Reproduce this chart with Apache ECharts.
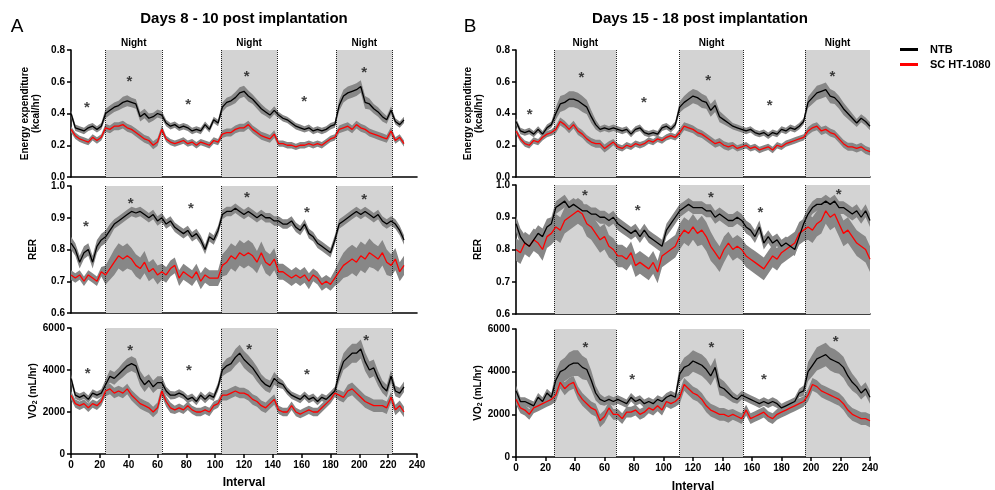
<!DOCTYPE html>
<html><head><meta charset="utf-8">
<script src="https://cdn.jsdelivr.net/npm/echarts/dist/echarts.min.js"></script>
<style>html,body{margin:0;padding:0;background:#fff}#c{width:995px;height:490px}</style>
</head><body><div id="c"></div>
<script>
// ---------- DATA ----------
const xLeft = [0,3,6,9,12,15,18,21,24,27,30,33,36,39,42,45,48,51,54,57,60,63,66,69,72,75,78,81,84,87,90,93,96,99,102,105,108,111,114,117,120,123,126,129,132,135,138,141,144,147,150,153,156,159,162,165,168,171,174,177,180,183,186,189,192,195,198,201,204,207,210,213,216,219,222,225,228,231];
const xRight = [0,3,6,9,12,15,18,21,24,27,30,33,36,39,42,45,48,51,54,57,60,63,66,69,72,75,78,81,84,87,90,93,96,99,102,105,108,111,114,117,120,123,126,129,132,135,138,141,144,147,150,153,156,159,162,165,168,171,174,177,180,183,186,189,192,195,198,201,204,207,210,213,216,219,222,225,228,231,234,237,240];

const nightsLeft = [[24,63],[104,143],[184,223]];
const nightsRight = [[26,68],[111,154],[196,240]];
const edgesLeft = [24,63,104,143,184,223];
const edgesRight = [26,68,111,154,196];

// Days 8-10: Energy expenditure
const LEE_N = [0.40,0.31,0.30,0.29,0.31,0.32,0.30,0.32, 0.40,0.42,0.44,0.45,0.47,0.48,0.47,0.46, 0.38,0.40,0.37,0.38,0.40,0.39,0.34,0.32, 0.33,0.31,0.32,0.31,0.29,0.30,0.29,0.33, 0.30,0.36,0.34,0.44,0.47,0.48,0.50,0.53, 0.54,0.51,0.49,0.46,0.43,0.41,0.39,0.42, 0.39,0.37,0.36,0.34,0.32,0.31,0.30,0.31, 0.29,0.30,0.29,0.30,0.32,0.33,0.45,0.51, 0.53,0.54,0.55,0.57,0.47,0.46,0.43,0.41, 0.38,0.36,0.42,0.35,0.33,0.36];
const LEE_N_sem = [.02,.02,.02,.02,.02,.02,.02,.02, .03,.03,.03,.03,.035,.035,.03,.03, .03,.03,.03,.025,.025,.025,.02,.02, .02,.02,.02,.02,.02,.02,.02,.02, .02,.02,.02,.03,.03,.03,.035,.035, .035,.035,.03,.03,.03,.025,.025,.025, .02,.02,.02,.02,.02,.02,.02,.02, .02,.02,.02,.02,.02,.02,.035,.04, .04,.04,.04,.04,.04,.035,.03,.03, .03,.025,.025,.02,.02,.02];
const LEE_R = [0.30,0.26,0.24,0.23,0.22,0.25,0.23,0.25, 0.31,0.30,0.32,0.32,0.33,0.31,0.30,0.28, 0.26,0.24,0.23,0.20,0.22,0.30,0.24,0.22, 0.21,0.22,0.23,0.21,0.22,0.20,0.22,0.21, 0.20,0.23,0.22,0.27,0.28,0.28,0.30,0.31, 0.31,0.33,0.30,0.28,0.26,0.25,0.24,0.27, 0.21,0.21,0.20,0.20,0.19,0.20,0.20,0.21, 0.20,0.21,0.20,0.22,0.24,0.25,0.30,0.31, 0.32,0.30,0.33,0.31,0.30,0.28,0.27,0.26, 0.25,0.24,0.29,0.23,0.25,0.21];
const LEE_R_sem = [.02,.02,.02,.02,.02,.02,.02,.02, .025,.025,.025,.025,.025,.025,.025,.025, .025,.025,.025,.025,.025,.025,.02,.02, .02,.02,.02,.02,.02,.02,.02,.02, .02,.02,.02,.025,.025,.025,.025,.025, .025,.025,.025,.025,.025,.025,.025,.025, .02,.02,.02,.02,.02,.02,.02,.02, .02,.02,.02,.02,.02,.02,.025,.025, .025,.025,.025,.025,.025,.025,.025,.025, .025,.025,.025,.02,.02,.02];

// Days 8-10: RER
const LRER_N = [0.82,0.80,0.76,0.79,0.80,0.76,0.81,0.83, 0.84,0.86,0.88,0.89,0.90,0.91,0.92,0.915, 0.92,0.91,0.90,0.91,0.89,0.90,0.88,0.89, 0.87,0.86,0.85,0.86,0.84,0.85,0.83,0.80, 0.84,0.83,0.86,0.91,0.92,0.92,0.93,0.92, 0.91,0.92,0.91,0.90,0.91,0.90,0.90,0.89, 0.89,0.88,0.88,0.89,0.87,0.86,0.88,0.85, 0.84,0.82,0.81,0.80,0.79,0.83,0.88,0.89, 0.90,0.91,0.92,0.91,0.92,0.91,0.90,0.91, 0.89,0.88,0.89,0.88,0.86,0.83];
const LRER_N_sem = [.02,.02,.02,.02,.02,.02,.02,.02, .02,.02,.015,.015,.015,.015,.015,.015, .015,.015,.015,.015,.015,.015,.015,.015, .015,.015,.015,.015,.015,.015,.015,.015, .015,.015,.015,.015,.015,.015,.015,.015, .015,.015,.015,.015,.015,.015,.015,.015, .015,.015,.015,.015,.015,.015,.015,.015, .015,.015,.015,.015,.015,.015,.015,.015, .015,.015,.015,.015,.015,.015,.015,.015, .015,.015,.015,.015,.015,.015];
const LRER_R = [0.72,0.71,0.72,0.70,0.72,0.71,0.70,0.73, 0.72,0.74,0.76,0.78,0.77,0.78,0.77,0.75, 0.74,0.76,0.73,0.74,0.72,0.73,0.72,0.74, 0.75,0.71,0.73,0.72,0.71,0.73,0.70,0.72, 0.71,0.71,0.71,0.75,0.76,0.78,0.77,0.79, 0.78,0.79,0.78,0.76,0.79,0.76,0.75,0.77, 0.73,0.73,0.72,0.71,0.72,0.71,0.72,0.70, 0.72,0.71,0.69,0.70,0.69,0.71,0.73,0.75, 0.76,0.77,0.76,0.78,0.77,0.79,0.78,0.77, 0.79,0.76,0.75,0.77,0.73,0.75];
const LRER_R_sem = [.015,.015,.015,.015,.015,.015,.015,.015, .03,.035,.04,.04,.04,.04,.035,.035, .035,.035,.03,.03,.03,.025,.025,.025, .025,.025,.025,.025,.025,.025,.025,.025, .025,.025,.025,.035,.04,.04,.04,.04, .04,.04,.04,.035,.035,.035,.035,.035, .025,.025,.025,.025,.025,.025,.025,.025, .02,.02,.02,.02,.02,.025,.035,.04, .045,.045,.045,.045,.045,.045,.04,.04, .04,.04,.035,.035,.03,.03];

// Days 8-10: VO2
const LVO2_N = [3600,2800,2700,2800,2600,2900,2800,2900, 3300,3700,3600,3800,4000,4200,4300,4200, 3600,3300,3500,3200,3400,3400,3000,2800, 2800,2900,2800,2600,2700,2500,2800,2600, 2800,2700,3200,4000,4200,4300,4600,4800, 4500,4300,4100,3800,3500,3300,3200,3600, 3400,3300,3000,2800,2700,2600,2800,2600, 2700,2500,2700,2600,2800,3000,3800,4400, 4600,4800,4800,5000,4400,4000,4100,3600, 3200,3000,3700,3000,2900,3200];
const LVO2_N_sem = [200,180,180,180,180,180,180,180, 250,300,300,300,350,350,350,350, 350,350,300,300,300,300,200,200, 180,180,180,180,180,180,180,180, 180,180,200,300,350,350,400,400, 400,400,350,350,300,300,300,300, 250,200,180,180,180,180,180,180, 180,180,180,180,180,200,350,400, 450,450,450,450,450,400,400,350, 300,300,300,250,250,250];
const LVO2_R = [2800,2400,2300,2400,2200,2400,2300,2500, 3000,3100,2900,3000,2900,3100,2800,2600, 2400,2300,2200,2000,2200,3000,2500,2200, 2100,2200,2100,2300,2100,2000,2000,2100, 2000,2300,2400,2800,2800,2900,3000,2900, 2900,2800,2600,2500,2300,2200,2400,2600, 2100,2000,2000,2300,2000,1900,2000,2100, 2000,2000,2200,2400,2600,2900,2800,2700, 3000,3100,2900,2700,2500,2400,2300,2300, 2300,2200,2700,2100,2300,2000];
const LVO2_R_sem = [200,200,200,200,200,200,200,200, 250,250,250,250,250,250,250,250, 250,250,250,250,250,250,250,250, 200,200,200,200,200,200,200,200, 200,200,200,250,250,250,250,250, 250,250,250,250,250,250,250,250, 200,200,200,200,200,200,200,200, 200,200,200,200,200,200,250,250, 300,300,300,300,300,300,300,300, 300,300,250,250,250,250];

// Days 15-18: Energy expenditure
const REE_N = [0.35,0.29,0.28,0.29,0.27,0.30,0.27,0.31, 0.33,0.40,0.46,0.47,0.49,0.49,0.48,0.46, 0.44,0.38,0.33,0.30,0.31,0.30,0.31,0.30, 0.29,0.30,0.27,0.30,0.31,0.28,0.27,0.28, 0.27,0.31,0.32,0.30,0.33,0.44,0.47,0.49, 0.51,0.50,0.48,0.47,0.42,0.45,0.38,0.36, 0.34,0.32,0.31,0.30,0.29,0.30,0.28,0.27, 0.28,0.26,0.28,0.27,0.30,0.29,0.31,0.30, 0.32,0.35,0.47,0.50,0.53,0.54,0.55,0.51, 0.50,0.47,0.43,0.40,0.37,0.34,0.37,0.35, 0.32];
const REE_N_sem = [.02,.02,.02,.02,.02,.02,.02,.02, .02,.04,.05,.05,.05,.05,.05,.05, .045,.04,.03,.02,.02,.02,.02,.02, .02,.02,.02,.02,.02,.02,.02,.02, .02,.02,.02,.02,.02,.035,.04,.045, .045,.045,.045,.04,.04,.04,.035,.03, .025,.02,.02,.02,.02,.02,.02,.02, .02,.02,.02,.02,.02,.02,.02,.02, .02,.02,.035,.04,.045,.045,.045,.045, .04,.04,.04,.035,.03,.025,.025,.025, .025];
const REE_R = [0.29,0.24,0.21,0.20,0.23,0.22,0.25,0.27, 0.28,0.30,0.35,0.33,0.30,0.33,0.29,0.27, 0.24,0.22,0.21,0.21,0.18,0.20,0.22,0.19, 0.18,0.20,0.19,0.21,0.20,0.21,0.23,0.22, 0.24,0.23,0.25,0.26,0.25,0.28,0.32,0.31, 0.30,0.28,0.27,0.25,0.23,0.21,0.22,0.20, 0.19,0.20,0.18,0.19,0.20,0.18,0.19,0.17, 0.18,0.19,0.17,0.20,0.19,0.21,0.22,0.23, 0.24,0.25,0.29,0.31,0.32,0.29,0.30,0.28, 0.27,0.24,0.21,0.19,0.19,0.18,0.19,0.17, 0.16];
const REE_R_sem = [.02,.02,.02,.02,.02,.02,.02,.02, .02,.025,.025,.025,.025,.025,.025,.025, .025,.025,.025,.025,.025,.025,.02,.02, .02,.02,.02,.02,.02,.02,.02,.02, .02,.02,.02,.02,.02,.025,.025,.025, .025,.025,.025,.025,.025,.025,.025,.025, .025,.02,.02,.02,.02,.02,.02,.02, .02,.02,.02,.02,.02,.02,.02,.02, .02,.02,.025,.025,.025,.025,.025,.025, .025,.025,.025,.025,.025,.025,.025,.025, .025];

// Days 15-18: RER
const RRER_N = [0.88,0.84,0.82,0.81,0.83,0.85,0.84,0.87, 0.88,0.93,0.94,0.95,0.93,0.94,0.93,0.92, 0.92,0.91,0.91,0.90,0.90,0.89,0.90,0.88, 0.87,0.86,0.85,0.86,0.84,0.86,0.84,0.83, 0.82,0.81,0.86,0.88,0.90,0.92,0.93,0.94, 0.93,0.93,0.93,0.92,0.92,0.90,0.91,0.90, 0.89,0.89,0.90,0.89,0.87,0.86,0.84,0.87, 0.82,0.84,0.82,0.83,0.81,0.82,0.81,0.80, 0.84,0.88,0.91,0.93,0.94,0.94,0.95,0.94, 0.95,0.93,0.93,0.92,0.91,0.92,0.90,0.92, 0.89];
const RRER_N_sem = [.025,.025,.025,.025,.025,.025,.025,.025, .02,.02,.02,.02,.02,.02,.02,.02, .02,.02,.02,.02,.02,.02,.02,.02, .02,.02,.02,.02,.02,.02,.02,.02, .02,.02,.02,.02,.02,.02,.02,.02, .02,.02,.02,.02,.02,.02,.02,.02, .02,.02,.02,.02,.02,.02,.02,.02, .02,.02,.02,.02,.02,.02,.02,.02, .02,.02,.02,.02,.02,.02,.02,.02, .02,.02,.02,.02,.02,.02,.02,.02, .02];
const RRER_R = [0.80,0.79,0.82,0.81,0.83,0.82,0.80,0.84, 0.85,0.87,0.86,0.89,0.90,0.91,0.92,0.91, 0.88,0.87,0.85,0.83,0.84,0.81,0.80,0.78, 0.78,0.77,0.79,0.75,0.76,0.75,0.74,0.76, 0.73,0.78,0.79,0.80,0.81,0.84,0.86,0.85, 0.87,0.85,0.86,0.84,0.81,0.79,0.77,0.80, 0.82,0.80,0.81,0.80,0.78,0.77,0.76,0.75, 0.74,0.76,0.78,0.77,0.79,0.80,0.81,0.82, 0.85,0.86,0.87,0.86,0.88,0.89,0.92,0.90, 0.91,0.88,0.85,0.86,0.84,0.82,0.81,0.80, 0.77];
const RRER_R_sem = [.035,.035,.035,.035,.035,.035,.035,.035, .035,.04,.04,.04,.04,.04,.04,.04, .04,.04,.04,.04,.04,.035,.035,.035, .035,.035,.035,.035,.035,.035,.035,.035, .035,.035,.035,.035,.035,.04,.04,.04, .04,.04,.045,.045,.045,.04,.04,.04, .035,.035,.035,.035,.035,.035,.035,.035, .035,.035,.035,.035,.035,.035,.035,.035, .035,.035,.04,.04,.04,.04,.04,.04, .04,.04,.04,.04,.04,.04,.04,.04, .04];

// Days 15-18: VO2
const RVO2_N = [3100,2600,2600,2500,2400,2800,2600,3000, 2800,3600,4000,4100,4300,4400,4400,4200, 4100,3600,3000,2700,2600,2700,2600,2700, 2600,2500,2800,2600,2700,2500,2600,2500, 2700,2600,2800,2900,2800,3900,4200,4300, 4500,4400,4300,4100,3800,4200,3300,3200, 3000,2800,2700,2900,2800,2700,2600,2500, 2600,2500,2600,2500,2300,2400,2500,2600, 3000,3100,4000,4300,4600,4700,4800,4600, 4500,4400,4200,3800,3500,3300,3000,3200, 2800];
const RVO2_N_sem = [250,200,200,200,200,200,200,200, 200,400,500,550,600,600,600,550, 500,450,350,250,200,200,200,200, 200,200,200,200,200,200,200,200, 200,200,200,200,200,400,450,500, 500,500,500,500,450,450,400,350, 300,250,200,200,200,200,200,200, 200,200,200,200,200,200,200,200, 200,250,450,500,550,550,550,550, 550,500,500,450,400,350,300,300, 300];
const RVO2_R = [2700,2300,2200,2000,2300,2400,2500,2600, 2700,2900,3500,3200,3400,3500,3000,2700, 2500,2300,2200,1700,1900,2300,2000,2000, 1800,2100,2100,2200,2000,2100,2300,2200, 2400,2200,2600,2500,2600,2800,3400,3200, 3000,2900,2700,2400,2200,2100,2000,2000, 1900,2000,1900,1800,2200,1800,1900,2000, 2100,1900,1800,2000,2100,2200,2300,2400, 2500,2600,2900,3400,3300,3100,3000,2900, 2800,2700,2500,2200,2000,1900,1800,1800, 1700];
const RVO2_R_sem = [250,250,250,250,250,250,250,250, 250,300,300,300,300,300,300,300, 300,300,300,300,300,300,250,250, 250,250,250,250,250,250,250,250, 250,250,250,250,250,300,300,300, 300,300,300,300,300,300,300,300, 300,250,250,250,250,250,250,250, 250,250,250,250,250,250,250,250, 250,250,300,300,300,300,300,300, 300,300,300,300,300,300,300,300, 300];

// significance markers
const starLEE = [[11,0.463],[40.5,0.625],[81.3,0.478],[121.8,0.657],[161.8,0.499],[203.4,0.68]];
const starLRER = [[10.4,0.885],[41.4,0.956],[83.2,0.941],[122,0.975],[163.6,0.927],[203.4,0.969]];
const starLVO2 = [[11.6,4000],[41.1,5095],[81.8,4143],[123.6,5159],[163.6,3968],[204.8,5556]];
const starREE = [[9.3,0.415],[44.3,0.648],[86.8,0.493],[130.2,0.632],[172,0.472],[214.5,0.657]];
const starRRER = [[46.8,0.979],[82.5,0.933],[132.2,0.972],[165.7,0.925],[218.8,0.981]];
const starRVO2 = [[47,5300],[78.7,3824],[132.5,5300],[168,3824],[216.8,5565]];

const xTicks = {min:0, max:240, interval:20};
const eeTicks = {min:0, max:0.8, interval:0.2};
const rerTicks = {min:0.6, max:1.0, interval:0.1};
const vo2Ticks = {min:0, max:6000, interval:2000};

// ---------- CHART ----------
const FONT = '"Liberation Sans", Arial, sans-serif';
const BAND = '#878787';
const NIGHT = '#d3d3d3';

const grids = [
  {left:71, top:50, width:346, height:127},
  {left:71, top:186, width:346, height:127},
  {left:71, top:328, width:346, height:126},
  {left:516, top:50, width:354, height:127},
  {left:516, top:185, width:354, height:129},
  {left:516, top:329, width:354, height:128}
];

const panels = [
  {xs:xLeft, n:LEE_N, ns:LEE_N_sem, r:LEE_R, rs:LEE_R_sem, stars:starLEE, kind:'ee', nights:nightsLeft, edges:edgesLeft, gap:29},
  {xs:xLeft, n:LRER_N, ns:LRER_N_sem, r:LRER_R, rs:LRER_R_sem, stars:starLRER, kind:'rer', nights:nightsLeft, edges:edgesLeft, gap:32},
  {xs:xLeft, n:LVO2_N, ns:LVO2_N_sem, r:LVO2_R, rs:LVO2_R_sem, stars:starLVO2, kind:'vo2', nights:nightsLeft, edges:edgesLeft, gap:32},
  {xs:xRight, n:REE_N, ns:REE_N_sem, r:REE_R, rs:REE_R_sem, stars:starREE, kind:'ee', nights:nightsRight, edges:edgesRight, gap:31},
  {xs:xRight, n:RRER_N, ns:RRER_N_sem, r:RRER_R, rs:RRER_R_sem, stars:starRRER, kind:'rer', nights:nightsRight, edges:edgesRight, gap:32},
  {xs:xRight, n:RVO2_N, ns:RVO2_N_sem, r:RVO2_R, rs:RVO2_R_sem, stars:starRVO2, kind:'vo2', nights:nightsRight, edges:edgesRight, gap:32}
];

const axisLine = {show:true, onZero:false, lineStyle:{color:'#000', width:1.6}};
const tickStyle = {show:true, length:4, lineStyle:{color:'#000', width:1.5}};
const labelStyle = {fontSize:10, fontWeight:'bold', color:'#000', fontFamily:FONT};

const xAxes = [], yAxes = [], series = [];

function bandSeries(gi, xs, m, s) {
  const data = xs.map((x, i) => [x, m[i] - s[i], m[i] + s[i]]);
  return {
    type:'custom', xAxisIndex:gi, yAxisIndex:gi, data, silent:true, z:3,
    encode:{x:0, y:[1,2]},
    renderItem(params, api) {
      if (params.dataIndex !== 0) return null;
      const up = [], lo = [];
      for (const d of data) { up.push(api.coord([d[0], d[2]])); lo.push(api.coord([d[0], d[1]])); }
      return {type:'polygon', shape:{points: up.concat(lo.reverse())}, style:{fill:BAND}};
    }
  };
}

panels.forEach((p, gi) => {
  const bottom = (gi % 3) === 2;
  xAxes.push(Object.assign({
    type:'value', gridIndex:gi, axisLine,
    axisTick: bottom ? tickStyle : {show:false},
    axisLabel: bottom ? Object.assign({margin:6}, labelStyle) : {show:false},
    splitLine:{show:false},
    name: bottom ? 'Interval' : '', nameLocation:'middle', nameGap: gi === 2 ? 23 : 24,
    nameMoveOverlap:false,
    nameTextStyle:{fontSize:12, fontWeight:'bold', color:'#000', fontFamily:FONT}
  }, xTicks));

  let yt, name, fmt, rich;
  if (p.kind === 'ee') { yt = eeTicks; name = 'Energy expenditure\n(kcal/hr)'; fmt = v => v.toFixed(1); }
  else if (p.kind === 'rer') { yt = rerTicks; name = 'RER'; fmt = v => v.toFixed(1); }
  else { yt = vo2Ticks; name = 'VO{s|2} (mL/hr)'; fmt = v => String(Math.round(v));
    rich = {s:{fontSize:7, fontWeight:'bold', color:'#000', fontFamily:FONT, verticalAlign:'bottom', padding:[6,0,0,0]}}; }
  yAxes.push(Object.assign({
    type:'value', gridIndex:gi, axisLine, axisTick:tickStyle,
    axisLabel:Object.assign({margin:6, formatter:fmt}, labelStyle),
    splitLine:{show:false},
    name, nameLocation:'middle', nameGap:p.gap, nameMoveOverlap:false,
    nameTextStyle:{fontSize:10, fontWeight:'bold', color:'#000', fontFamily:FONT, lineHeight:11, rich}
  }, yt));

  // night shading + dotted edges
  series.push({
    type:'line', xAxisIndex:gi, yAxisIndex:gi, data:[], z:1, silent:true,
    markArea:{silent:true, itemStyle:{color:NIGHT},
      label:{show:p.kind === 'ee', position:'top', distance:2, formatter:'Night',
        fontSize:10, fontWeight:'bold', color:'#000', fontFamily:FONT},
      data:p.nights.map(([a,b]) => [{xAxis:a}, {xAxis:b}])},
    markLine:{silent:true, symbol:['none','none'], label:{show:false},
      lineStyle:{type:'dotted', color:'#222', width:1},
      data:p.edges.map(x => ({xAxis:x}))}
  });
  series.push(bandSeries(gi, p.xs, p.r, p.rs));
  series.push(bandSeries(gi, p.xs, p.n, p.ns));
  series.push({type:'line', name:'SC HT-1080', xAxisIndex:gi, yAxisIndex:gi, z:5,
    data:p.xs.map((x,i) => [x, p.r[i]]), showSymbol:false, symbol:'none',
    lineStyle:{color:'#ff0000', width:1.3}, itemStyle:{color:'#ff0000'}});
  series.push({type:'line', name:'NTB', xAxisIndex:gi, yAxisIndex:gi, z:6,
    data:p.xs.map((x,i) => [x, p.n[i]]), showSymbol:false, symbol:'none',
    lineStyle:{color:'#000', width:1.3}, itemStyle:{color:'#000'}});
  series.push({type:'scatter', xAxisIndex:gi, yAxisIndex:gi, z:7, silent:true,
    data:p.stars, symbolSize:1, itemStyle:{color:'rgba(0,0,0,0)'},
    label:{show:true, formatter:'*', position:'inside', offset:[0,4],
      fontSize:15, fontWeight:'bold', color:'#111', fontFamily:FONT}});
});

const chart = echarts.init(document.getElementById('c'), null, {renderer:'canvas'});
chart.setOption({
  animation:false,
  backgroundColor:'#fff',
  textStyle:{fontFamily:FONT},
  grid:grids.map(g => Object.assign({containLabel:false, outerBoundsMode:'none'}, g)),
  xAxis:xAxes, yAxis:yAxes, series,
  legend:{data:['NTB','SC HT-1080'], orient:'vertical', left:900, top:44, padding:0,
    itemWidth:18, itemHeight:3, itemGap:4, icon:'rect', selectedMode:false,
    textStyle:{fontSize:11, fontWeight:'bold', color:'#000', fontFamily:FONT, padding:[0,0,0,7]}},
  graphic:[
    {type:'text', x:244, y:19, style:{text:'Days 8 - 10 post implantation', font:'bold 15px ' + FONT, fill:'#000', textAlign:'center', textVerticalAlign:'middle'}},
    {type:'text', x:700, y:19, style:{text:'Days 15 - 18 post implantation', font:'bold 15px ' + FONT, fill:'#000', textAlign:'center', textVerticalAlign:'middle'}},
    {type:'text', x:17, y:27, style:{text:'A', font:'19px ' + FONT, fill:'#000', textAlign:'center', textVerticalAlign:'middle'}},
    {type:'text', x:470, y:27, style:{text:'B', font:'19px ' + FONT, fill:'#000', textAlign:'center', textVerticalAlign:'middle'}}
  ]
});
</script>
</body></html>
